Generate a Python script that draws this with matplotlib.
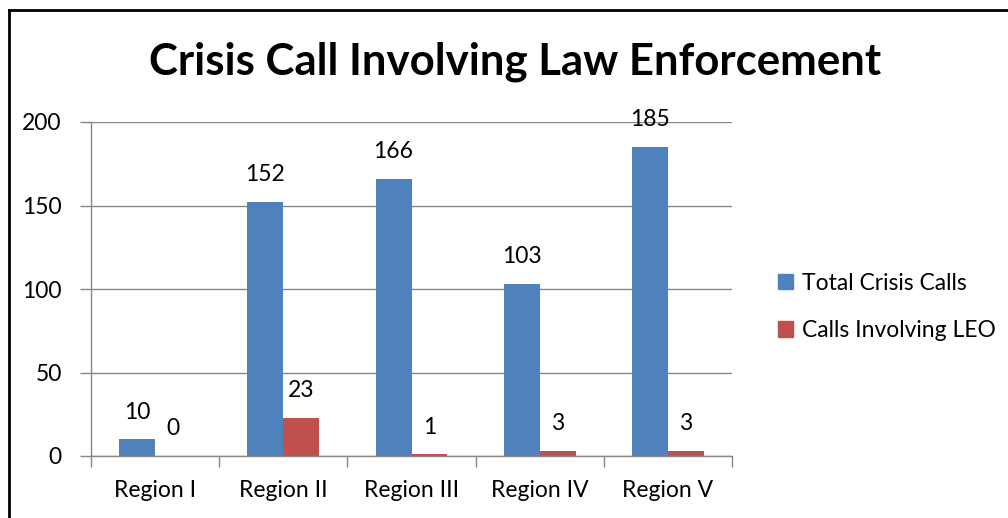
import matplotlib
matplotlib.use("Agg")
import matplotlib.pyplot as plt
from matplotlib.lines import Line2D
from matplotlib.patches import Patch
import numpy as np

# chart data
regions = ['Region I', 'Region II', 'Region III', 'Region IV', 'Region V']
total_calls = [10, 152, 166, 103, 185]
leo_calls = [0, 23, 1, 3, 3]
series_names = ['Total Crisis Calls', 'Calls Involving LEO']

blue = '#4f81bd'
red = '#c0504d'
grid_col = '#868686'
fs = 16.5

plt.rcParams['font.family'] = ['Lato', 'DejaVu Sans']

fig = plt.figure(figsize=(10.08, 5.18), dpi=100)
ax = fig.add_axes([91 / 1008, 1 - 456 / 518, (732 - 91) / 1008, (456 - 122) / 518])

x = np.arange(len(regions))
w = 0.28
b1 = ax.bar(x - w / 2, total_calls, w, color=blue, label=series_names[0])
b2 = ax.bar(x + w / 2, leo_calls, w, color=red, label=series_names[1])

for bars, vals in [(b1, total_calls), (b2, leo_calls)]:
    for rect, v in zip(bars, vals):
        ax.annotate(str(v), (rect.get_x() + rect.get_width() / 2, v),
                    xytext=(0, 12), textcoords='offset points',
                    ha='center', va='bottom', fontsize=fs)

ax.set_xlim(-0.5, len(regions) - 0.5)
ax.set_ylim(0, 200)
ax.set_yticks([0, 50, 100, 150, 200])
ax.yaxis.grid(True, color=grid_col, linewidth=1)
ax.set_axisbelow(True)

ax.set_xticks(x)
ax.set_xticklabels(regions, fontsize=fs)
ax.tick_params(axis='x', length=0, pad=17)
ax.set_xticks(np.arange(-0.5, len(regions)), minor=True)
ax.tick_params(axis='x', which='minor', length=8, color=grid_col, width=1)
ax.tick_params(axis='y', labelsize=fs, length=8, color=grid_col, width=1, pad=13)

for side in ['top', 'right']:
    ax.spines[side].set_visible(False)
for side in ['left', 'bottom']:
    ax.spines[side].set_color(grid_col)
    ax.spines[side].set_linewidth(1)

fig.text(515 / 1008, 1 - 62 / 518, 'Crisis Call Involving Law Enforcement',
         ha='center', va='center', fontsize=31.5, fontweight='bold')

handles = [Patch(color=blue), Patch(color=red)]
fig.legend(handles, series_names, loc='center left',
           bbox_to_anchor=(757 / 1008, 1 - 307 / 518), frameon=False,
           fontsize=fs, handlelength=0.65, handleheight=0.65, handletextpad=0.4,
           labelspacing=1.15)

# chart border (left and top edges visible)
fig.add_artist(Line2D([9 / 1008, 9 / 1008], [0, 1 - 10 / 518], color='black',
                      linewidth=2, transform=fig.transFigure))
fig.add_artist(Line2D([9 / 1008, 1], [1 - 10 / 518, 1 - 10 / 518], color='black',
                      linewidth=2, transform=fig.transFigure))

fig.savefig('out.png', dpi=100)
